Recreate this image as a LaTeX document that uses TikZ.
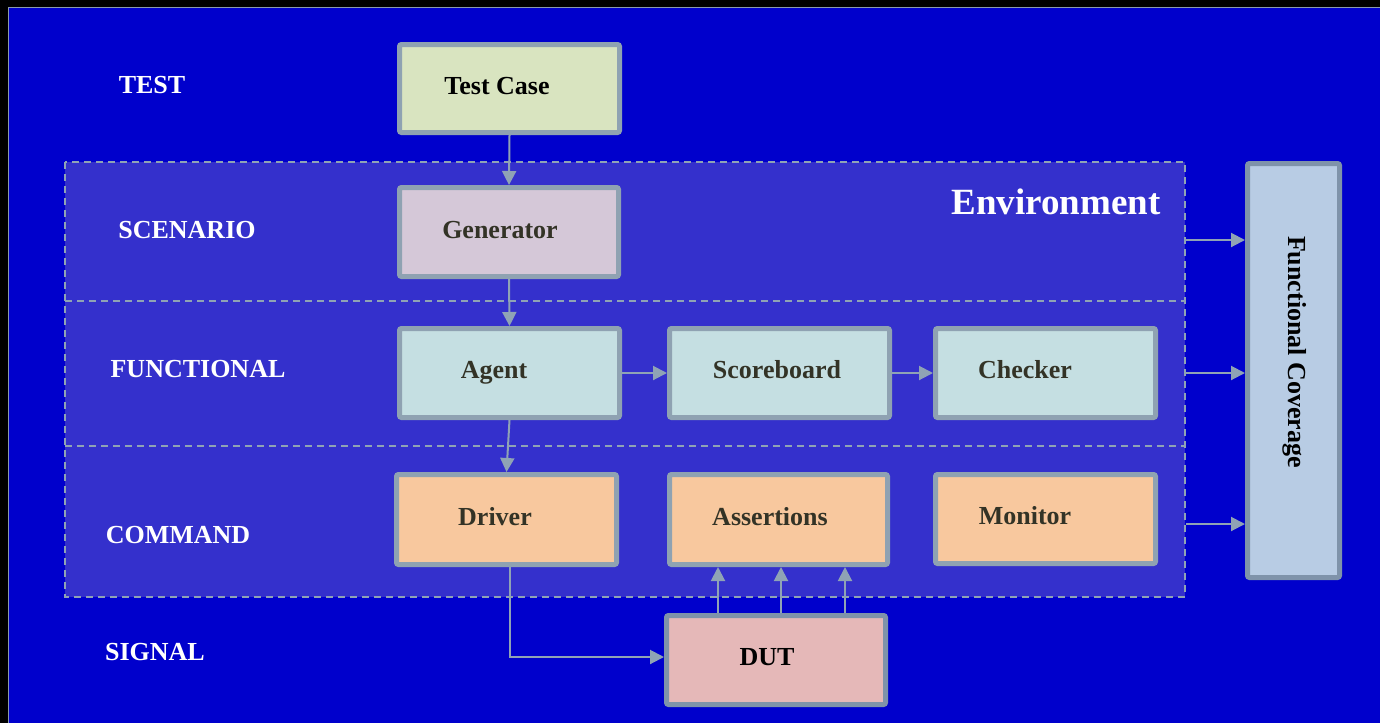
\documentclass[tikz,border=0pt]{standalone}
\usepackage{fontspec}
\setmainfont{Liberation Serif}
\usetikzlibrary{arrows.meta}
\definecolor{bgblue}{HTML}{0000CC}
\definecolor{envblue}{HTML}{3430CC}
\definecolor{frameg}{HTML}{8A9BAE}
\definecolor{boxg}{HTML}{8FA2B2}
\definecolor{dutg}{HTML}{7F93AA}
\definecolor{arrg}{HTML}{8FA3B5}
\definecolor{tcfill}{HTML}{D9E4C0}
\definecolor{genfill}{HTML}{D5C8D8}
\definecolor{funfill}{HTML}{C5DFE2}
\definecolor{cmdfill}{HTML}{F8C89E}
\definecolor{dutfill}{HTML}{E5B8B8}
\definecolor{fcfill}{HTML}{B8CCE4}
\definecolor{dtext}{HTML}{333326}
\tikzset{
  x=1pt, y=-1pt,
  boxnode/.style={draw=boxg, line width=5pt, rounded corners=2pt, inner sep=0pt, anchor=north west},
  boxtext/.style={font=\fontsize{26}{30}\selectfont\bfseries, text=dtext, inner sep=0pt, text height=17pt, text depth=0pt},
  lvltext/.style={font=\fontsize{26}{30}\selectfont\bfseries, text=white, inner sep=0pt, text height=17pt, text depth=0pt},
  conn/.style={draw=arrg, line width=2pt, -{Triangle[length=14pt,width=14pt]}},
  envline/.style={draw=arrg, line width=1.5pt, dash pattern=on 7pt off 5pt},
}
\begin{document}
\begin{tikzpicture}
\useasboundingbox (0,0) rectangle (1380,723);
\fill[black] (0,0) rectangle (1380,723);
\fill[bgblue] (8,7) rectangle (1380,723);
\draw[frameg, line width=1.2pt] (8.6,723) -- (8.6,7.6) -- (1380,7.6);

% environment
\fill[envblue] (65,162) rectangle (1185,597);
\draw[envline] (65,162) rectangle (1185,597);
\draw[envline] (65,301) -- (1185,301);
\draw[envline] (65,446) -- (1185,446);
\node[font=\fontsize{37}{42}\selectfont\bfseries, text=white, inner sep=0pt, text height=24pt, text depth=0pt] (envT) at (1056,202) {Environment};

% level labels
\node[lvltext] (lTest) at (152,85) {TEST};
\node[lvltext] (lScen) at (187,230) {SCENARIO};
\node[lvltext] (lFunc) at (198,369) {FUNCTIONAL};
\node[lvltext] (lCmd) at (178,535) {COMMAND};
\node[lvltext] (lSig) at (155,652) {SIGNAL};

% boxes (anchored at their outer edge)
\node[boxnode, fill=tcfill, minimum width=220pt, minimum height=88pt] (tc) at (397,42) {};
\node[boxnode, fill=genfill, minimum width=219pt, minimum height=89pt] (gen) at (397,185) {};
\node[boxnode, fill=funfill, minimum width=220pt, minimum height=89pt] (agent) at (397,326) {};
\node[boxnode, fill=funfill, minimum width=220pt, minimum height=89pt] (sb) at (667,326) {};
\node[boxnode, fill=funfill, minimum width=220pt, minimum height=89pt] (chk) at (933,326) {};
\node[boxnode, fill=cmdfill, minimum width=220pt, minimum height=90pt] (drv) at (394,472) {};
\node[boxnode, fill=cmdfill, minimum width=218pt, minimum height=90pt] (asr) at (667,472) {};
\node[boxnode, fill=cmdfill, minimum width=220pt, minimum height=89pt] (mon) at (933,472) {};
\node[boxnode, draw=dutg, fill=dutfill, minimum width=219pt, minimum height=89pt] (dut) at (664,613) {};
\node[boxnode, draw=dutg, fill=fcfill, minimum width=92pt, minimum height=414pt] (fc) at (1245,161) {};

% box texts
\node[boxtext, text=black] (tcT) at (497,86) {Test Case};
\node[boxtext] (genT) at (500,230) {Generator};
\node[boxtext] (agentT) at (494,370) {Agent};
\node[boxtext] (sbT) at (777,370) {Scoreboard};
\node[boxtext] (chkT) at (1025,370) {Checker};
\node[boxtext] (drvT) at (495,517) {Driver};
\node[boxtext] (asrT) at (770,517) {Assertions};
\node[boxtext] (monT) at (1025,516) {Monitor};
\node[boxtext, text=black] (dutT) at (767,657) {DUT};
\node[boxtext, text=black, rotate=-90] (fcT) at (1297,352) {Functional Coverage};

% connectors
\draw[conn] (tc.south) -- (gen.north);
\draw[conn] (gen.south) -- (agent.north);
\draw[conn] (agent.south) -- (drv.north);
\draw[conn] (agent.east |- 0,373) -- (sb.west |- 0,373);
\draw[conn] (sb.east |- 0,373) -- (chk.west |- 0,373);
\draw[conn] (drv.south -| 510,0) |- (dut.west |- 0,657);
\draw[conn] (dut.north -| 718,0) -- (asr.south -| 718,0);
\draw[conn] (dut.north -| 781,0) -- (asr.south -| 781,0);
\draw[conn] (dut.north -| 845,0) -- (asr.south -| 845,0);
\coordinate (e1) at (1186,240);
\coordinate (e2) at (1186,373);
\coordinate (e3) at (1186,524);
\draw[conn] (e1) -- (fc.west |- e1);
\draw[conn] (e2) -- (fc.west |- e2);
\draw[conn] (e3) -- (fc.west |- e3);
\end{tikzpicture}
\end{document}
